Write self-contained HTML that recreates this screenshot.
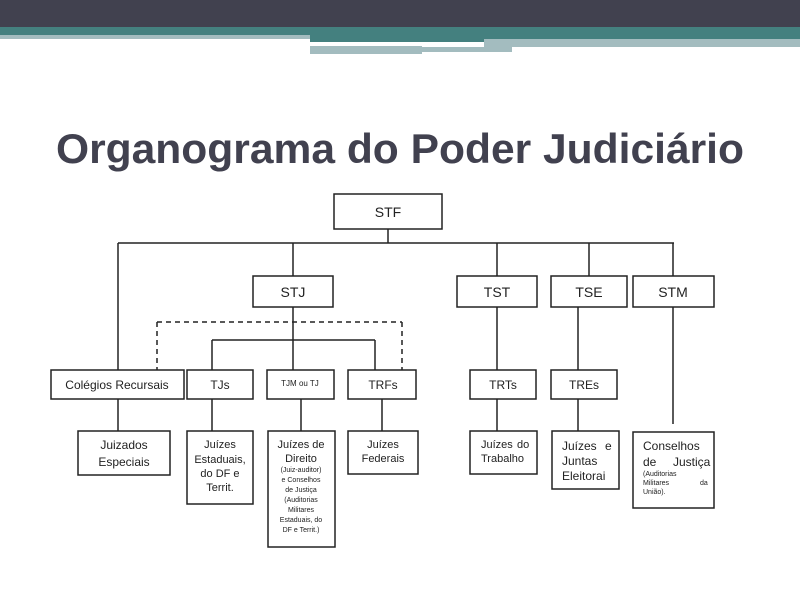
<!DOCTYPE html>
<html><head><meta charset="utf-8"><style>
html,body{margin:0;padding:0;background:#fff;}
svg{display:block;}
text{font-family:"Liberation Sans",sans-serif;fill:#222;}
</style></head><body>
<svg width="800" height="600" viewBox="0 0 800 600" xmlns="http://www.w3.org/2000/svg">
<rect x="0" y="0" width="800" height="27" fill="#41414f"/>
<rect x="0" y="27" width="800" height="8" fill="#44807f"/>
<rect x="0" y="35" width="310" height="4" fill="#a3bcbf"/>
<rect x="310" y="35" width="490" height="8" fill="#44807f"/>
<rect x="310" y="43" width="174" height="2" fill="#fff"/>
<rect x="484" y="39" width="316" height="8" fill="#a3bcbf"/>
<rect x="310" y="46" width="112" height="8" fill="#a3bcbf"/>
<rect x="422" y="47" width="90" height="5" fill="#a3bcbf"/>
<rect x="310" y="42" width="174" height="2" fill="#fff"/>
<text x="400" y="163" text-anchor="middle" font-size="42" font-weight="bold" textLength="688" lengthAdjust="spacingAndGlyphs" style="fill:#41414f">Organograma do Poder Judiciário</text>
<g stroke="#222" stroke-width="1.5" fill="none">
<line x1="388" y1="229" x2="388" y2="243"/>
<line x1="118" y1="243" x2="674" y2="243"/>
<line x1="118" y1="243" x2="118" y2="370"/>
<line x1="293" y1="243" x2="293" y2="276"/>
<line x1="497" y1="243" x2="497" y2="276"/>
<line x1="589" y1="243" x2="589" y2="276"/>
<line x1="673" y1="243" x2="673" y2="276"/>
<line x1="293" y1="307" x2="293" y2="340"/>
<line x1="212" y1="340" x2="375" y2="340"/>
<line x1="212" y1="340" x2="212" y2="370"/>
<line x1="293" y1="340" x2="293" y2="370"/>
<line x1="375" y1="340" x2="375" y2="370"/>
<line x1="157" y1="322" x2="402" y2="322" stroke-dasharray="5,4"/>
<line x1="157" y1="322" x2="157" y2="370" stroke-dasharray="5,4"/>
<line x1="402" y1="322" x2="402" y2="370" stroke-dasharray="5,4"/>
<line x1="497" y1="307" x2="497" y2="370"/>
<line x1="578" y1="307" x2="578" y2="370"/>
<line x1="673" y1="307" x2="673" y2="424"/>
<line x1="118" y1="399" x2="118" y2="431"/>
<line x1="212" y1="399" x2="212" y2="431"/>
<line x1="301" y1="399" x2="301" y2="431"/>
<line x1="382" y1="399" x2="382" y2="431"/>
<line x1="497" y1="399" x2="497" y2="431"/>
<line x1="578" y1="399" x2="578" y2="431"/>
<rect x="334" y="194" width="108" height="35"/>
<rect x="253" y="276" width="80" height="31"/>
<rect x="457" y="276" width="80" height="31"/>
<rect x="551" y="276" width="76" height="31"/>
<rect x="633" y="276" width="81" height="31"/>
<rect x="51" y="370" width="133" height="29"/>
<rect x="187" y="370" width="66" height="29"/>
<rect x="267" y="370" width="67" height="29"/>
<rect x="348" y="370" width="68" height="29"/>
<rect x="470" y="370" width="66" height="29"/>
<rect x="551" y="370" width="66" height="29"/>
<rect x="78" y="431" width="92" height="44"/>
<rect x="187" y="431" width="66" height="73"/>
<rect x="268" y="431" width="67" height="116"/>
<rect x="348" y="431" width="70" height="43"/>
<rect x="470" y="431" width="67" height="43"/>
<rect x="552" y="431" width="67" height="58"/>
<rect x="633" y="432" width="81" height="76"/>
</g>
<g font-size="14" text-anchor="middle">
<text x="388" y="217">STF</text>
<text x="293" y="297">STJ</text>
<text x="497" y="297">TST</text>
<text x="589" y="297">TSE</text>
<text x="673" y="297">STM</text>
</g>
<g font-size="12" text-anchor="middle">
<text x="117" y="389">Colégios Recursais</text>
<text x="220" y="389">TJs</text>
<text x="383" y="389">TRFs</text>
<text x="503" y="389">TRTs</text>
<text x="584" y="389">TREs</text>
<text x="300" y="386" font-size="8">TJM ou TJ</text>
<text x="124" y="449">Juizados</text>
<text x="124" y="466">Especiais</text>
<text x="220" y="448" font-size="11">Juízes</text>
<text x="220" y="463" font-size="11">Estaduais,</text>
<text x="220" y="477" font-size="11">do DF e</text>
<text x="220" y="491" font-size="11">Territ.</text>
<text x="301" y="448" font-size="11">Juízes de</text>
<text x="301" y="462" font-size="11">Direito</text>
<g font-size="7">
<text x="301" y="472">(Juiz-auditor)</text>
<text x="301" y="482">e Conselhos</text>
<text x="301" y="492">de Justiça</text>
<text x="301" y="502">(Auditorias</text>
<text x="301" y="512">Militares</text>
<text x="301" y="522">Estaduais, do</text>
<text x="301" y="532">DF e Territ.)</text>
</g>
<text x="383" y="448" font-size="11">Juízes</text>
<text x="383" y="462" font-size="11">Federais</text>
</g>
<g font-size="11">
<text x="481" y="448">Juízes</text><text x="517" y="448">do</text>
<text x="481" y="462">Trabalho</text>
<text x="562" y="450" font-size="12">Juízes</text><text x="605" y="450" font-size="12">e</text>
<text x="562" y="465" font-size="12">Juntas</text>
<text x="562" y="480" font-size="12">Eleitorai</text>
<text x="643" y="450" font-size="12">Conselhos</text>
<text x="643" y="466" font-size="12">de</text><text x="673" y="466" font-size="12">Justiça</text>
<text x="643" y="476" font-size="7">(Auditorias</text>
<text x="643" y="485" font-size="7">Militares</text><text x="700" y="485" font-size="7">da</text>
<text x="643" y="494" font-size="7">União).</text>
</g>
</svg>
</body></html>
